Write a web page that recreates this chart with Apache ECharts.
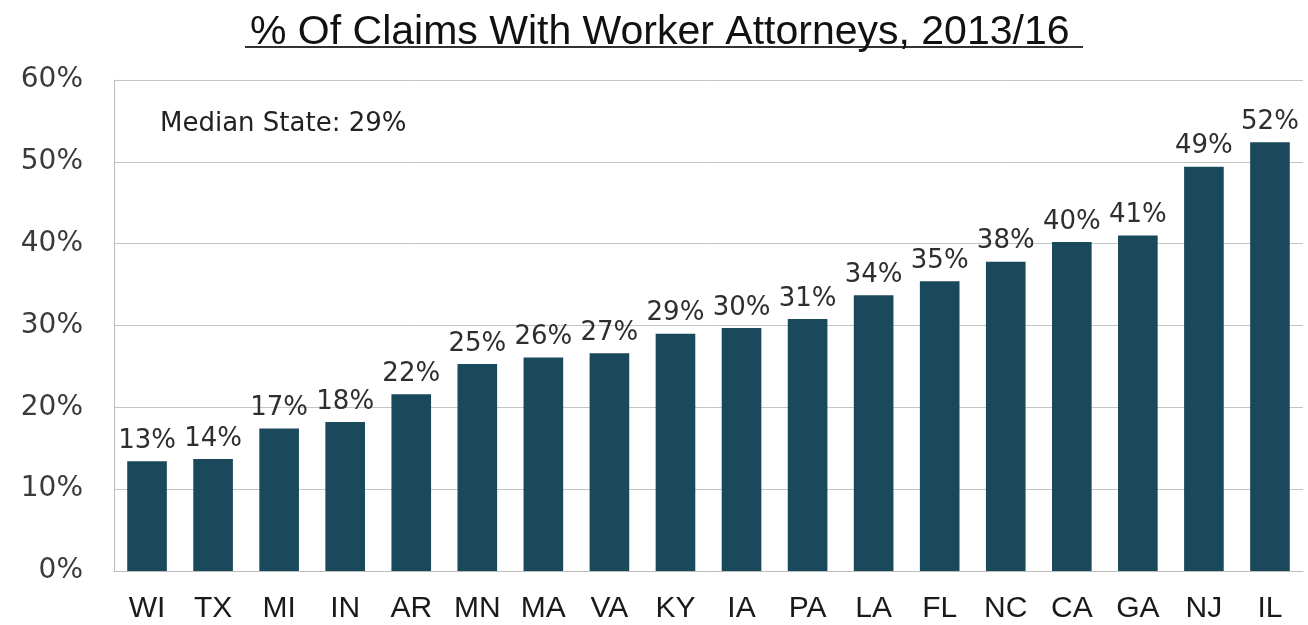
<!DOCTYPE html>
<html>
<head>
<meta charset="utf-8">
<script src="https://cdn.jsdelivr.net/npm/echarts@6/dist/echarts.min.js"></script>
<style>
  html, body { margin: 0; padding: 0; background: #fff; }
  #chart { width: 1308px; height: 625px; }
</style>
</head>
<body>
<div id="chart"></div>
<script>
// states, sorted by share of claims with a worker attorney
const states = ["WI", "TX", "MI", "IN", "AR", "MN", "MA", "VA", "KY", "IA", "PA", "LA", "FL", "NC", "CA", "GA", "NJ", "IL"];
const shares = [13.4, 13.7, 17.4, 18.2, 21.6, 25.3, 26.1, 26.6, 29.0, 29.7, 30.8, 33.7, 35.4, 37.8, 40.2, 41.0, 49.4, 52.4];
const yTicks = [0, 10, 20, 30, 40, 50, 60];
const medianNote = "Median State: 29%";

const chart = echarts.init(document.getElementById("chart"));

const option = {
  backgroundColor: "#fff",
  animation: false,
  title: [
    {
      text: "% Of Claims With Worker Attorneys, 2013/16",
      left: 245,
      top: 7,
      textStyle: {
        fontFamily: "Liberation Sans",
        fontSize: 41,
        fontWeight: "normal",
        color: "#111",
      },
    },
    {
      // note in the top-left corner of the plot
      text: medianNote,
      left: 155,
      top: 106,
      textStyle: {
        fontFamily: "DejaVu Sans",
        fontSize: 26,
        fontWeight: "normal",
        color: "#222",
      },
    },
  ],
  graphic: [
    {
      // underline below the title
      type: "line",
      shape: { x1: 245, y1: 47, x2: 1083, y2: 47 },
      style: { stroke: "#333", lineWidth: 2 },
    },
  ],
  grid: {
    left: 114,
    right: 5,
    top: 80,
    bottom: 54,
  },
  xAxis: {
    type: "category",
    data: states,
    axisTick: { show: false },
    axisLine: { show: true, lineStyle: { color: "#bdbdbd", width: 1 } },
    axisLabel: {
      margin: 23,
      fontFamily: "Liberation Sans",
      fontSize: 30,
      color: "#1a1a1a",
    },
  },
  yAxis: {
    type: "value",
    min: yTicks[0],
    max: yTicks[yTicks.length - 1],
    interval: 10,
    axisLine: { show: true, lineStyle: { color: "#bdbdbd", width: 1 } },
    axisTick: { show: false },
    splitLine: { lineStyle: { color: "#c4c4c4", width: 1 } },
    axisLabel: {
      margin: 31,
      fontFamily: "DejaVu Sans",
      fontSize: 28,
      color: "#3a3a3a",
      formatter: v => v + "%",
    },
  },
  series: [
    {
      type: "bar",
      data: shares,
      barWidth: "60%",
      itemStyle: { color: "#19495a" },
      label: {
        show: true,
        position: "top",
        distance: 7,
        fontFamily: "DejaVu Sans",
        fontSize: 26,
        color: "#2e2e2e",
        formatter: p => Math.round(p.value) + "%",
      },
    },
  ],
};

chart.setOption(option);
</script>
</body>
</html>
